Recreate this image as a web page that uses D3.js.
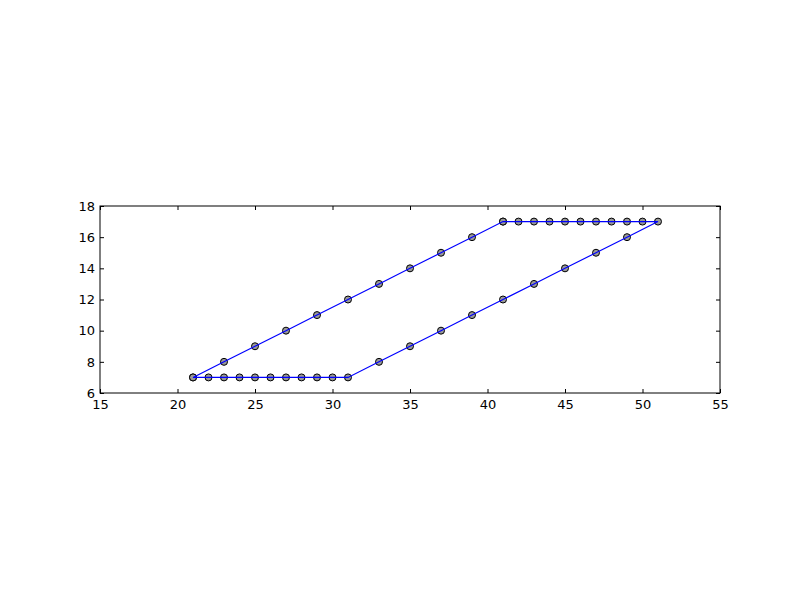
<!DOCTYPE html>
<html><head><meta charset="utf-8">
<script src="https://cdn.jsdelivr.net/npm/d3@7"></script>
<style>body{margin:0;background:#fff}svg{display:block}</style>
</head><body>
<svg id="c" width="800" height="600"></svg>
<script>
const xValues = [21,22,23,24,25,26,27,28,29,30,31,33,35,37,39,41,43,45,47,49,51,50,49,48,47,46,45,44,43,42,41,41,39,37,35,33,31,29,27,25,23,21];
const yValues = [7,7,7,7,7,7,7,7,7,7,7,8,9,10,11,12,13,14,15,16,17,17,17,17,17,17,17,17,17,17,17,17,16,15,14,13,12,11,10,9,8,7];
const xTicks = [15,20,25,30,35,40,45,50,55];
const yTicks = [6,8,10,12,14,16,18];

const svg = d3.select("#c");
const L=100,R=720,T=206,B=393;
const x = d3.scaleLinear().domain([15,55]).range([L,R]);
const y = d3.scaleLinear().domain([6,18]).range([B,T]);
const pts = xValues.map((v,i)=>[v,yValues[i]]);

svg.append("rect").attr("x",0).attr("y",0).attr("width",800).attr("height",600).attr("fill","#fff");

svg.append("g").selectAll("circle").data(pts).join("circle")
  .attr("cx",d=>x(d[0])).attr("cy",d=>y(d[1])).attr("r",3.5)
  .attr("fill","#999999").attr("stroke","#000").attr("stroke-width",1);

svg.append("path").datum(pts)
  .attr("d",d3.line().x(d=>x(d[0])).y(d=>y(d[1])))
  .attr("fill","none").attr("stroke","#0000ff").attr("stroke-width",1.2);

const font = "DejaVu Sans";
const gx = svg.append("g").attr("transform",`translate(0,${B})`)
  .call(d3.axisBottom(x).tickValues(xTicks).tickSize(-4).tickPadding(7).tickFormat(d3.format("d")));
const gx2 = svg.append("g").attr("transform",`translate(0,${T})`)
  .call(d3.axisTop(x).tickValues(xTicks).tickSize(-4).tickFormat(""));
const gy = svg.append("g").attr("transform",`translate(${L},0)`)
  .call(d3.axisLeft(y).tickValues(yTicks).tickSize(-4).tickPadding(5).tickFormat(d3.format("d")));
const gy2 = svg.append("g").attr("transform",`translate(${R},0)`)
  .call(d3.axisRight(y).tickValues(yTicks).tickSize(-4).tickFormat(""));
[gx,gx2,gy,gy2].forEach(g=>{
  g.select(".domain").remove();
  g.selectAll("line").attr("stroke","#000");
  g.selectAll("text").attr("font-family",font).attr("font-size",13).attr("fill","#000");
});
svg.append("rect").attr("x",L).attr("y",T).attr("width",R-L).attr("height",B-T)
  .attr("fill","none").attr("stroke","#000").attr("stroke-width",1);
</script>
</body></html>
